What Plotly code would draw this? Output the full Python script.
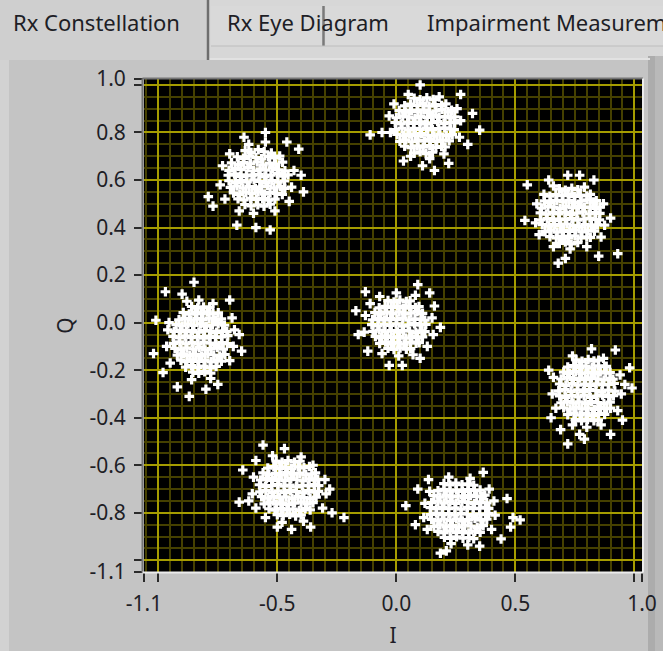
import plotly.graph_objects as go

# ---------------- data (I, Q) ----------------
cluster_upper_left = [
    (-0.635, 0.724), (-0.61, 0.716), (-0.58, 0.728), (-0.555, 0.719), (-0.525, 0.713),
    (-0.668, 0.698), (-0.642, 0.691), (-0.618, 0.702), (-0.59, 0.694), (-0.566, 0.689), (-0.538, 0.699), (-0.512, 0.693), (-0.49, 0.701),
    (-0.692, 0.672), (-0.664, 0.665), (-0.64, 0.674), (-0.613, 0.668), (-0.585, 0.676), (-0.56, 0.664), (-0.532, 0.671), (-0.507, 0.667), (-0.478, 0.675),
    (-0.703, 0.641), (-0.677, 0.649), (-0.652, 0.644), (-0.624, 0.652), (-0.6, 0.639), (-0.572, 0.647), (-0.548, 0.642), (-0.52, 0.65), (-0.495, 0.643), (-0.468, 0.639),
    (-0.706, 0.62), (-0.68, 0.626), (-0.655, 0.615), (-0.63, 0.622), (-0.606, 0.617), (-0.578, 0.624), (-0.553, 0.613), (-0.527, 0.621), (-0.5, 0.627), (-0.476, 0.616), (-0.455, 0.622),
    (-0.703, 0.597), (-0.676, 0.59), (-0.65, 0.599), (-0.627, 0.592), (-0.598, 0.601), (-0.574, 0.594), (-0.547, 0.589), (-0.522, 0.598), (-0.497, 0.591), (-0.47, 0.596),
    (-0.697, 0.569), (-0.67, 0.575), (-0.644, 0.566), (-0.618, 0.572), (-0.592, 0.564), (-0.566, 0.571), (-0.541, 0.576), (-0.514, 0.567), (-0.488, 0.573), (-0.468, 0.565),
    (-0.684, 0.546), (-0.658, 0.54), (-0.632, 0.549), (-0.606, 0.543), (-0.58, 0.55), (-0.554, 0.541), (-0.53, 0.547), (-0.503, 0.544), (-0.479, 0.539),
    (-0.665, 0.521), (-0.64, 0.516), (-0.612, 0.524), (-0.588, 0.518), (-0.562, 0.523), (-0.537, 0.515), (-0.51, 0.52),
    (-0.636, 0.497), (-0.61, 0.491), (-0.582, 0.496), (-0.556, 0.49), (-0.53, 0.498),
    (-0.73, 0.66), (-0.74, 0.58), (-0.72, 0.52), (-0.43, 0.64), (-0.44, 0.57), (-0.45, 0.51),
    (-0.62, 0.75), (-0.55, 0.76), (-0.66, 0.47), (-0.51, 0.47), (-0.6, 0.46), (-0.7, 0.71),
    (-0.79, 0.53), (-0.39, 0.55), (-0.55, 0.80), (-0.59, 0.40), (-0.53, 0.39), (-0.67, 0.41),
    (-0.41, 0.73), (-0.46, 0.76), (-0.77, 0.49), (-0.40, 0.62), (-0.64, 0.78),
]

cluster_top = [
    (0.075, 0.944), (0.1, 0.937), (0.128, 0.946), (0.155, 0.939),
    (0.035, 0.912), (0.06, 0.919), (0.087, 0.914), (0.112, 0.921), (0.138, 0.911), (0.163, 0.917), (0.19, 0.913), (0.208, 0.92),
    (0.012, 0.892), (0.038, 0.886), (0.064, 0.894), (0.09, 0.888), (0.115, 0.895), (0.14, 0.885), (0.167, 0.891), (0.192, 0.897), (0.218, 0.887), (0.232, 0.893),
    (0.0, 0.862), (0.027, 0.869), (0.052, 0.866), (0.078, 0.86), (0.103, 0.868), (0.13, 0.863), (0.155, 0.871), (0.18, 0.864), (0.205, 0.867), (0.23, 0.861), (0.245, 0.866),
    (-0.005, 0.842), (0.02, 0.836), (0.047, 0.844), (0.072, 0.838), (0.098, 0.845), (0.122, 0.835), (0.148, 0.841), (0.173, 0.846), (0.2, 0.837), (0.225, 0.843), (0.245, 0.84),
    (-0.003, 0.812), (0.024, 0.818), (0.05, 0.81), (0.075, 0.817), (0.1, 0.813), (0.127, 0.819), (0.152, 0.811), (0.178, 0.816), (0.203, 0.82), (0.228, 0.814), (0.243, 0.812),
    (0.003, 0.792), (0.03, 0.786), (0.055, 0.794), (0.08, 0.788), (0.106, 0.795), (0.132, 0.789), (0.158, 0.785), (0.183, 0.793), (0.21, 0.787), (0.235, 0.791),
    (0.015, 0.763), (0.04, 0.769), (0.066, 0.761), (0.092, 0.767), (0.118, 0.764), (0.143, 0.77), (0.17, 0.762), (0.195, 0.768), (0.222, 0.765),
    (0.035, 0.742), (0.062, 0.736), (0.088, 0.744), (0.113, 0.738), (0.14, 0.745), (0.166, 0.737), (0.19, 0.741), (0.205, 0.739),
    (0.075, 0.713), (0.1, 0.719), (0.125, 0.711), (0.152, 0.717),
    (-0.03, 0.87), (-0.025, 0.8), (0.27, 0.85), (0.265, 0.78), (0.05, 0.96), (0.18, 0.95),
    (0.06, 0.7), (0.2, 0.71), (0.255, 0.9), (-0.01, 0.92), (0.14, 0.69),
    (0.10, 1.00), (0.35, 0.81), (0.32, 0.88), (-0.11, 0.79), (0.16, 0.64), (0.11, 0.66),
    (0.03, 0.68), (0.27, 0.96), (-0.06, 0.80), (0.30, 0.75), (0.22, 0.67),
]

cluster_upper_right = [
    (0.685, 0.563), (0.71, 0.557), (0.737, 0.565), (0.762, 0.559),
    (0.645, 0.532), (0.67, 0.539), (0.697, 0.534), (0.722, 0.541), (0.748, 0.531), (0.773, 0.537), (0.8, 0.533), (0.815, 0.54),
    (0.622, 0.512), (0.648, 0.506), (0.674, 0.514), (0.7, 0.508), (0.725, 0.515), (0.75, 0.505), (0.777, 0.511), (0.802, 0.517), (0.828, 0.507), (0.84, 0.513),
    (0.61, 0.482), (0.637, 0.489), (0.662, 0.486), (0.688, 0.48), (0.713, 0.488), (0.74, 0.483), (0.765, 0.491), (0.79, 0.484), (0.815, 0.487), (0.84, 0.481), (0.855, 0.486),
    (0.605, 0.462), (0.63, 0.456), (0.657, 0.464), (0.682, 0.458), (0.708, 0.465), (0.732, 0.455), (0.758, 0.461), (0.783, 0.466), (0.81, 0.457), (0.835, 0.463), (0.855, 0.46),
    (0.607, 0.432), (0.634, 0.438), (0.66, 0.43), (0.685, 0.437), (0.71, 0.433), (0.737, 0.439), (0.762, 0.431), (0.788, 0.436), (0.813, 0.44), (0.838, 0.434), (0.853, 0.432),
    (0.613, 0.412), (0.64, 0.406), (0.665, 0.414), (0.69, 0.408), (0.716, 0.415), (0.742, 0.409), (0.768, 0.405), (0.793, 0.413), (0.82, 0.407), (0.845, 0.411),
    (0.625, 0.383), (0.65, 0.389), (0.676, 0.381), (0.702, 0.387), (0.728, 0.384), (0.753, 0.39), (0.78, 0.382), (0.805, 0.388), (0.832, 0.385),
    (0.645, 0.362), (0.672, 0.356), (0.698, 0.364), (0.723, 0.358), (0.75, 0.365), (0.776, 0.357), (0.8, 0.361), (0.815, 0.359),
    (0.685, 0.333), (0.71, 0.339), (0.735, 0.331), (0.762, 0.337),
    (0.59, 0.5), (0.585, 0.42), (0.6, 0.37), (0.87, 0.5), (0.875, 0.41), (0.86, 0.36),
    (0.66, 0.575), (0.79, 0.57), (0.66, 0.32), (0.8, 0.32), (0.73, 0.31), (0.62, 0.54),
    (0.55, 0.58), (0.72, 0.62), (0.77, 0.62), (0.83, 0.60), (0.93, 0.29), (0.85, 0.28),
    (0.68, 0.25), (0.54, 0.43), (0.71, 0.27), (0.9, 0.44), (0.64, 0.6),
]

cluster_left = [
    (-0.86, 0.068), (-0.835, 0.061), (-0.81, 0.066), (-0.785, 0.063),
    (-0.895, 0.042), (-0.87, 0.036), (-0.845, 0.044), (-0.82, 0.038), (-0.795, 0.045), (-0.77, 0.037), (-0.748, 0.041),
    (-0.913, 0.012), (-0.888, 0.018), (-0.862, 0.01), (-0.837, 0.017), (-0.812, 0.013), (-0.786, 0.019), (-0.76, 0.011), (-0.735, 0.016),
    (-0.925, -0.008), (-0.9, -0.014), (-0.875, -0.006), (-0.85, -0.012), (-0.823, -0.005), (-0.798, -0.015), (-0.772, -0.009), (-0.748, -0.004), (-0.722, -0.011),
    (-0.933, -0.037), (-0.907, -0.031), (-0.882, -0.039), (-0.856, -0.033), (-0.83, -0.04), (-0.806, -0.032), (-0.78, -0.036), (-0.755, -0.041), (-0.73, -0.034), (-0.712, -0.038),
    (-0.938, -0.058), (-0.912, -0.064), (-0.887, -0.056), (-0.862, -0.063), (-0.836, -0.059), (-0.81, -0.065), (-0.785, -0.057), (-0.76, -0.062), (-0.735, -0.06), (-0.708, -0.055),
    (-0.936, -0.087), (-0.91, -0.081), (-0.884, -0.089), (-0.858, -0.083), (-0.833, -0.09), (-0.808, -0.082), (-0.782, -0.086), (-0.757, -0.091), (-0.732, -0.084), (-0.71, -0.088),
    (-0.93, -0.108), (-0.905, -0.114), (-0.88, -0.106), (-0.854, -0.112), (-0.828, -0.105), (-0.803, -0.115), (-0.778, -0.109), (-0.752, -0.104), (-0.727, -0.111),
    (-0.92, -0.137), (-0.894, -0.131), (-0.868, -0.139), (-0.843, -0.133), (-0.818, -0.14), (-0.792, -0.132), (-0.767, -0.136), (-0.742, -0.141), (-0.72, -0.134),
    (-0.905, -0.158), (-0.88, -0.164), (-0.855, -0.156), (-0.83, -0.163), (-0.804, -0.159), (-0.778, -0.165), (-0.753, -0.157), (-0.735, -0.162),
    (-0.885, -0.187), (-0.86, -0.181), (-0.834, -0.189), (-0.808, -0.183), (-0.782, -0.19), (-0.757, -0.184),
    (-0.855, -0.208), (-0.83, -0.213), (-0.805, -0.206), (-0.78, -0.212),
    (-0.96, -0.03), (-0.965, -0.1), (-0.955, 0.0), (-0.68, -0.03), (-0.685, -0.1), (-0.69, 0.02),
    (-0.88, 0.09), (-0.77, 0.08), (-0.86, -0.24), (-0.78, -0.235), (-0.95, -0.17), (-0.7, -0.16), (-0.83, 0.095),
    (-0.85, 0.17), (-1.01, 0.01), (-1.02, -0.13), (-0.87, -0.31), (-0.65, -0.12), (-0.70, 0.095),
    (-0.97, 0.13), (-0.75, -0.26), (-0.9, 0.12), (-0.98, -0.21), (-0.8, -0.28), (-0.66, -0.05), (-0.92, -0.27),
]

cluster_lower_left = [
    (-0.505, -0.582), (-0.48, -0.588), (-0.455, -0.58), (-0.428, -0.587), (-0.405, -0.583),
    (-0.54, -0.612), (-0.515, -0.606), (-0.49, -0.614), (-0.465, -0.608), (-0.44, -0.615), (-0.413, -0.607), (-0.388, -0.611), (-0.365, -0.605),
    (-0.56, -0.632), (-0.535, -0.639), (-0.508, -0.634), (-0.483, -0.641), (-0.458, -0.631), (-0.432, -0.637), (-0.406, -0.633), (-0.38, -0.64), (-0.355, -0.636), (-0.34, -0.632),
    (-0.57, -0.662), (-0.545, -0.656), (-0.52, -0.664), (-0.494, -0.658), (-0.468, -0.665), (-0.443, -0.655), (-0.418, -0.661), (-0.392, -0.666), (-0.366, -0.657), (-0.342, -0.663), (-0.33, -0.659),
    (-0.575, -0.682), (-0.55, -0.689), (-0.524, -0.686), (-0.498, -0.68), (-0.472, -0.688), (-0.447, -0.683), (-0.42, -0.691), (-0.395, -0.684), (-0.37, -0.687), (-0.345, -0.681), (-0.326, -0.686),
    (-0.573, -0.712), (-0.548, -0.706), (-0.522, -0.714), (-0.497, -0.708), (-0.47, -0.715), (-0.445, -0.705), (-0.42, -0.711), (-0.393, -0.716), (-0.368, -0.707), (-0.343, -0.713), (-0.327, -0.71),
    (-0.566, -0.732), (-0.54, -0.738), (-0.515, -0.73), (-0.49, -0.737), (-0.464, -0.733), (-0.438, -0.739), (-0.413, -0.731), (-0.388, -0.736), (-0.362, -0.74), (-0.337, -0.734),
    (-0.555, -0.762), (-0.53, -0.756), (-0.504, -0.764), (-0.478, -0.758), (-0.452, -0.765), (-0.427, -0.759), (-0.4, -0.755), (-0.375, -0.763), (-0.35, -0.757),
    (-0.535, -0.783), (-0.51, -0.789), (-0.485, -0.781), (-0.46, -0.787), (-0.434, -0.784), (-0.408, -0.79), (-0.383, -0.782), (-0.362, -0.788),
    (-0.5, -0.808), (-0.475, -0.812), (-0.448, -0.806), (-0.423, -0.813), (-0.4, -0.809),
    (-0.6, -0.65), (-0.605, -0.72), (-0.59, -0.78), (-0.3, -0.66), (-0.295, -0.72), (-0.31, -0.78),
    (-0.52, -0.56), (-0.4, -0.565), (-0.48, -0.84), (-0.39, -0.835), (-0.35, -0.6), (-0.55, -0.82),
    (-0.56, -0.515), (-0.66, -0.755), (-0.22, -0.82), (-0.27, -0.80), (-0.62, -0.75), (-0.645, -0.62),
    (-0.44, -0.87), (-0.36, -0.86), (-0.47, -0.53), (-0.28, -0.7), (-0.59, -0.58), (-0.5, -0.86),
]

cluster_center = [
    (-0.035, 0.093), (-0.01, 0.087), (0.015, 0.095), (0.042, 0.089), (0.058, 0.092),
    (-0.072, 0.062), (-0.047, 0.069), (-0.021, 0.064), (0.004, 0.07), (0.03, 0.061), (0.055, 0.067), (0.08, 0.063), (0.095, 0.068),
    (-0.09, 0.042), (-0.065, 0.036), (-0.04, 0.044), (-0.014, 0.038), (0.012, 0.045), (0.037, 0.037), (0.062, 0.041), (0.088, 0.046), (0.11, 0.039),
    (-0.1, 0.012), (-0.075, 0.018), (-0.05, 0.01), (-0.024, 0.017), (0.002, 0.013), (0.027, 0.019), (0.053, 0.011), (0.078, 0.016), (0.103, 0.014), (0.12, 0.01),
    (-0.103, -0.008), (-0.078, -0.014), (-0.052, -0.006), (-0.027, -0.012), (-0.001, -0.005), (0.025, -0.015), (0.05, -0.009), (0.076, -0.004), (0.1, -0.011), (0.124, -0.007),
    (-0.098, -0.037), (-0.072, -0.031), (-0.047, -0.039), (-0.021, -0.033), (0.005, -0.04), (0.03, -0.032), (0.056, -0.036), (0.082, -0.041), (0.107, -0.034), (0.12, -0.038),
    (-0.088, -0.058), (-0.062, -0.064), (-0.037, -0.056), (-0.011, -0.063), (0.015, -0.059), (0.04, -0.065), (0.066, -0.057), (0.09, -0.062), (0.11, -0.06),
    (-0.07, -0.087), (-0.045, -0.081), (-0.02, -0.089), (0.006, -0.083), (0.032, -0.09), (0.058, -0.082), (0.083, -0.086), (0.096, -0.084),
    (-0.035, -0.108), (-0.01, -0.113), (0.016, -0.106), (0.042, -0.112), (0.06, -0.109),
    (-0.13, 0.03), (-0.135, -0.04), (0.15, 0.02), (0.155, -0.05), (-0.07, 0.11), (0.08, 0.115),
    (-0.06, -0.13), (0.07, -0.135), (-0.11, 0.08), (0.13, -0.1), (0.0, 0.125), (0.01, -0.14),
    (-0.13, 0.13), (0.09, 0.16), (0.14, 0.125), (0.185, -0.02), (-0.03, -0.18), (0.025, -0.18),
    (-0.16, -0.05), (-0.12, -0.12), (0.16, 0.07), (-0.17, 0.05), (0.1, -0.15),
]

cluster_right = [
    (0.755, -0.157), (0.78, -0.163), (0.806, -0.155), (0.83, -0.162), (0.85, -0.158),
    (0.72, -0.187), (0.745, -0.181), (0.77, -0.189), (0.796, -0.183), (0.822, -0.19), (0.848, -0.182), (0.875, -0.186), (0.882, -0.184),
    (0.703, -0.208), (0.728, -0.214), (0.754, -0.206), (0.78, -0.213), (0.806, -0.209), (0.832, -0.215), (0.857, -0.207), (0.88, -0.212), (0.898, -0.21),
    (0.692, -0.237), (0.718, -0.231), (0.744, -0.239), (0.77, -0.233), (0.795, -0.24), (0.82, -0.232), (0.846, -0.236), (0.872, -0.241), (0.898, -0.234), (0.91, -0.238),
    (0.686, -0.258), (0.712, -0.264), (0.738, -0.256), (0.763, -0.263), (0.79, -0.259), (0.815, -0.265), (0.84, -0.257), (0.866, -0.262), (0.892, -0.26), (0.915, -0.256),
    (0.682, -0.287), (0.708, -0.281), (0.734, -0.289), (0.76, -0.283), (0.786, -0.29), (0.812, -0.282), (0.838, -0.286), (0.863, -0.291), (0.89, -0.284), (0.918, -0.288),
    (0.686, -0.308), (0.711, -0.314), (0.737, -0.306), (0.763, -0.312), (0.789, -0.305), (0.815, -0.315), (0.841, -0.309), (0.866, -0.304), (0.892, -0.311), (0.912, -0.307),
    (0.692, -0.337), (0.718, -0.331), (0.743, -0.339), (0.768, -0.333), (0.794, -0.34), (0.82, -0.332), (0.846, -0.336), (0.872, -0.341), (0.898, -0.334),
    (0.703, -0.358), (0.73, -0.364), (0.755, -0.356), (0.78, -0.363), (0.806, -0.359), (0.832, -0.365), (0.858, -0.357), (0.884, -0.362), (0.9, -0.36),
    (0.72, -0.387), (0.746, -0.381), (0.772, -0.389), (0.797, -0.383), (0.823, -0.39), (0.85, -0.382), (0.875, -0.386),
    (0.752, -0.408), (0.778, -0.413), (0.803, -0.406), (0.83, -0.412), (0.848, -0.409),
    (0.66, -0.23), (0.655, -0.3), (0.67, -0.36), (0.94, -0.22), (0.945, -0.3), (0.93, -0.37),
    (0.74, -0.14), (0.87, -0.15), (0.74, -0.43), (0.86, -0.43), (0.8, -0.44), (0.96, -0.26),
    (0.92, -0.115), (0.98, -0.19), (0.99, -0.275), (0.65, -0.40), (0.72, -0.51), (0.90, -0.47),
    (0.82, -0.11), (0.77, -0.47), (0.69, -0.45), (0.64, -0.2), (0.95, -0.41), (0.79, -0.49),
]

cluster_bottom = [
    (0.2, -0.677), (0.225, -0.683), (0.25, -0.675), (0.276, -0.682), (0.3, -0.678), (0.325, -0.684),
    (0.175, -0.707), (0.2, -0.701), (0.226, -0.709), (0.252, -0.703), (0.278, -0.71), (0.303, -0.702), (0.328, -0.706), (0.352, -0.704),
    (0.158, -0.728), (0.184, -0.734), (0.21, -0.726), (0.235, -0.733), (0.26, -0.729), (0.286, -0.735), (0.312, -0.727), (0.338, -0.732), (0.362, -0.73), (0.372, -0.726),
    (0.148, -0.757), (0.174, -0.751), (0.2, -0.759), (0.225, -0.753), (0.25, -0.76), (0.276, -0.752), (0.302, -0.756), (0.328, -0.761), (0.354, -0.754), (0.38, -0.758),
    (0.143, -0.778), (0.168, -0.784), (0.194, -0.776), (0.22, -0.783), (0.246, -0.779), (0.272, -0.785), (0.298, -0.777), (0.323, -0.782), (0.35, -0.78), (0.375, -0.776), (0.388, -0.781),
    (0.143, -0.807), (0.168, -0.801), (0.194, -0.809), (0.22, -0.803), (0.246, -0.81), (0.272, -0.802), (0.298, -0.806), (0.323, -0.811), (0.35, -0.804), (0.375, -0.808), (0.388, -0.803),
    (0.148, -0.828), (0.174, -0.834), (0.2, -0.826), (0.226, -0.832), (0.252, -0.825), (0.278, -0.835), (0.303, -0.829), (0.33, -0.824), (0.355, -0.831), (0.38, -0.827),
    (0.158, -0.857), (0.184, -0.851), (0.21, -0.859), (0.236, -0.853), (0.262, -0.86), (0.288, -0.852), (0.314, -0.856), (0.34, -0.861), (0.365, -0.854),
    (0.175, -0.878), (0.2, -0.884), (0.226, -0.876), (0.252, -0.883), (0.278, -0.879), (0.304, -0.885), (0.33, -0.877), (0.352, -0.882),
    (0.202, -0.903), (0.228, -0.908), (0.253, -0.901), (0.28, -0.907), (0.305, -0.904), (0.325, -0.909),
    (0.12, -0.76), (0.115, -0.82), (0.13, -0.87), (0.41, -0.75), (0.415, -0.81), (0.4, -0.87),
    (0.22, -0.65), (0.31, -0.655), (0.23, -0.93), (0.3, -0.935), (0.39, -0.7), (0.14, -0.71),
    (0.04, -0.77), (0.09, -0.70), (0.49, -0.82), (0.52, -0.83), (0.48, -0.86), (0.185, -0.97),
    (0.365, -0.63), (0.135, -0.66), (0.465, -0.74), (0.21, -0.96), (0.35, -0.94), (0.08, -0.85), (0.44, -0.91),
]

clusters = [cluster_upper_left, cluster_top, cluster_upper_right, cluster_left,
            cluster_lower_left, cluster_center, cluster_right, cluster_bottom]

# axis extents and tick labels (LabVIEW style: min/max labels shown rounded)
i_range = [-1.06, 1.032]
q_range = [-1.049, 1.025]
i_tick_vals = [-1.06, -1.0, -0.5, 0.0, 0.5, 1.0, 1.032]
i_tick_text = ["-1.1", "", "-0.5", "0.0", "0.5", "", "1.0"]
q_tick_vals = [-1.049, -1.0, -0.8, -0.6, -0.4, -0.2, 0.0, 0.2, 0.4, 0.6, 0.8, 1.0, 1.025]
q_tick_text = ["-1.1", "", "-0.8", "-0.6", "-0.4", "-0.2", "0.0", "0.2", "0.4", "0.6", "0.8", "", "1.0"]
tab_labels = ["Rx Constellation", "Rx Eye Diagram", "Impairment Measurements"]

# ---------------- figure ----------------
W, H = 663, 651
L, R, T, B = 144, 21, 79, 79
PW = W - L - R
PH = H - T - B


def px(xp):
    return (xp - L) / PW


def py(yp):
    return (H - B - yp) / PH


i_vals = [p[0] for c in clusters for p in c]
q_vals = [p[1] for c in clusters for p in c]

FONT = "Noto Sans"
TXT = "#1e1e26"

fig = go.Figure()
fig.add_trace(go.Scatter(
    x=i_vals, y=q_vals, mode="markers",
    marker=dict(symbol="cross", size=8, color="#ffffff", line=dict(width=0)),
    showlegend=False, hoverinfo="skip",
))

shapes = []


def rect(x0, y0, x1, y1, fill, layer="below"):
    shapes.append(dict(type="rect", xref="paper", yref="paper",
                       x0=px(x0), x1=px(x1), y0=py(y1), y1=py(y0),
                       fillcolor=fill, line=dict(width=0), layer=layer))


def line(x0, y0, x1, y1, color, w, layer="below"):
    shapes.append(dict(type="line", xref="paper", yref="paper",
                       x0=px(x0), x1=px(x1), y0=py(y0), y1=py(y1),
                       line=dict(color=color, width=w), layer=layer))


# tab strip and panel
rect(0, 0, 663, 60, "#d7d7d7")
rect(0, 58, 9, 651, "#d2d2d2")
rect(9, 58, 650, 651, "#c4c4c4")
rect(648, 56, 663, 651, "#acacac")
rect(655, 56, 663, 651, "#b9b9b9")
line(9, 59, 650, 59, "#e2e2e2", 2)
rect(0, 0, 207, 60, "#cfcfcf")
rect(211, 6, 322, 46, "#d9d9d9")
rect(326, 6, 663, 46, "#d9d9d9")
line(208, 0, 208, 60, "#6e6e6e", 2.5)
line(323.5, 6, 323.5, 46, "#7a7a7a", 2.5)
line(211, 46, 663, 46, "#bdbdbd", 1)
# black plot face (drawn after the panel so the panel does not cover it)
shapes.append(dict(type="rect", xref="paper", yref="paper", x0=0, x1=1, y0=0, y1=1,
                   fillcolor="#000000", line=dict(width=0), layer="below"))

# plot border: dark top/left, light bottom/right
line(142.5, 78.5, 643, 78.5, "#747474", 2, "above")
line(142.5, 78.5, 142.5, 572.5, "#747474", 2, "above")
line(142.5, 572.5, 643, 572.5, "#ececec", 2, "above")
line(643, 78.5, 643, 572.5, "#ececec", 2, "above")

annotations = []
for label, xp in zip(tab_labels, [11, 225, 425]):
    annotations.append(dict(text=label, xref="paper", yref="paper",
                            x=px(xp), y=py(22), xanchor="left", yanchor="middle",
                            showarrow=False, font=dict(family=FONT, size=22, color=TXT)))

axis_common = dict(
    tickmode="array", ticks="outside", ticklen=9, tickwidth=2, tickcolor="#2a2a2a",
    showgrid=True, gridcolor="#a59c00", gridwidth=2,
    zeroline=False, showline=False, ticklabeloverflow="allow",
    tickfont=dict(family=FONT, size=21, color=TXT),
    minor=dict(tickmode="linear", tick0=0, dtick=0.05, showgrid=True,
               gridcolor="#454000", gridwidth=2, ticks=""),
)

fig.update_layout(
    width=W, height=H, margin=dict(l=L, r=R, t=T, b=B, autoexpand=False),
    paper_bgcolor="#c4c4c4", plot_bgcolor="#000000",
    shapes=shapes, annotations=annotations,
    xaxis=dict(range=i_range, tickvals=i_tick_vals, ticktext=i_tick_text,
               title=dict(text="I", font=dict(family=FONT, size=21, color=TXT), standoff=12),
               ticklabelstandoff=4, **axis_common),
    yaxis=dict(range=q_range, tickvals=q_tick_vals, ticktext=q_tick_text,
               title=dict(text="Q", font=dict(family=FONT, size=21, color=TXT), standoff=10),
               ticklabelstandoff=4, **axis_common),
)

fig.write_html("out.html", config={"displayModeBar": False, "staticPlot": True},
               post_script="document.body.style.margin='0';document.body.style.overflow='hidden';")
